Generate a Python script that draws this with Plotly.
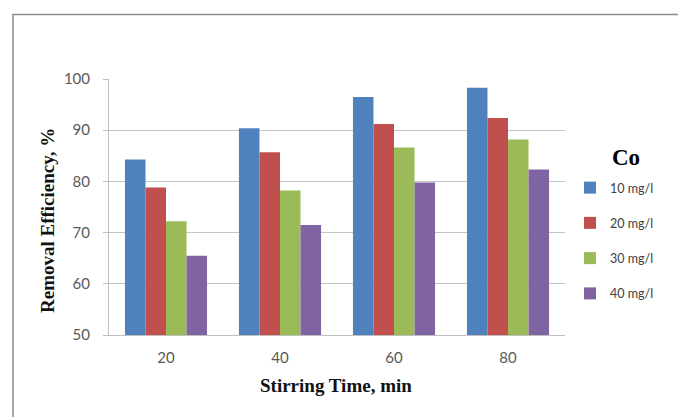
import plotly.graph_objects as go

stirring_time = ["20", "40", "60", "80"]
series_names = ["10 mg/l", "20 mg/l", "30 mg/l", "40 mg/l"]
eff_10 = [84.3, 90.4, 96.5, 98.3]
eff_20 = [78.8, 85.7, 91.2, 92.4]
eff_30 = [72.2, 78.2, 86.6, 88.2]
eff_40 = [65.5, 71.5, 79.8, 82.3]
colors = ["#4F81BD", "#C0504D", "#9BBB59", "#8064A2"]

# page body has an 8px margin; figure sized to fit the window exactly
OFF = 8
W, H = 686 - OFF, 417 - OFF
L, T = 109 - OFF, 79 - OFF
R, B = 686 - 565, 417 - 335
pw, ph = W - L - R, H - T - B

def px(x):
    return (x - OFF - L) / pw

def py(y):
    return (H - B - (y - OFF)) / ph

fig = go.Figure()
for name, vals, c in zip(series_names, [eff_10, eff_20, eff_30, eff_40], colors):
    fig.add_trace(go.Bar(x=stirring_time, y=vals, name=name, legendgroup=name,
                         marker=dict(color=c, line=dict(width=0))))

tick_font = dict(family="Lato, Liberation Sans, sans-serif", size=15, color="#595959")
title_font = dict(family="Liberation Serif, Times New Roman, serif", size=19, color="#111111")

fig.update_layout(
    width=W, height=H,
    margin=dict(l=L, r=R, t=T, b=B, autoexpand=False),
    paper_bgcolor="white", plot_bgcolor="white",
    barmode="group", bargap=0.28, bargroupgap=0,
    showlegend=True,
    legend=dict(x=px(570), y=py(173), xanchor="left", yanchor="top",
                font=dict(family="Lato, Liberation Sans, sans-serif", size=12.5, color="#404040"),
                tracegroupgap=16, itemwidth=30, bgcolor="rgba(0,0,0,0)"),
    xaxis=dict(showline=True, linecolor="#bfbfbf", linewidth=1, ticks="",
               tickfont=tick_font, showgrid=False, ticklabelstandoff=9),
    yaxis=dict(range=[50, 100], dtick=10, showline=True, linecolor="#bfbfbf", linewidth=1,
               ticks="outside", ticklen=5, tickcolor="#bfbfbf",
               showgrid=True, gridcolor="#c4c4c4", gridwidth=1,
               tickfont=tick_font, ticklabelstandoff=10, zeroline=False),
    annotations=[
        dict(text="<b>Co</b>", xref="paper", yref="paper", x=px(626), y=py(157),
             xanchor="center", yanchor="middle", showarrow=False,
             font=dict(family="Liberation Serif, Times New Roman, serif", size=23, color="#000000")),
        dict(text="<b>Stirring Time, min</b>", xref="paper", yref="paper", x=px(336), y=py(385),
             xanchor="center", yanchor="middle", showarrow=False, font=title_font),
        dict(text="<b>Removal Efficiency, %</b>", xref="paper", yref="paper", x=px(47), y=py(221),
             xanchor="center", yanchor="middle", showarrow=False, textangle=-90, font=title_font),
    ],
    shapes=[dict(type="rect", xref="paper", yref="paper",
                 x0=px(13), x1=px(684), y0=py(440), y1=py(14.5),
                 line=dict(color="#8c8c8c", width=1.5), fillcolor="rgba(0,0,0,0)", layer="below")],
)

fig.write_html("out.html")
